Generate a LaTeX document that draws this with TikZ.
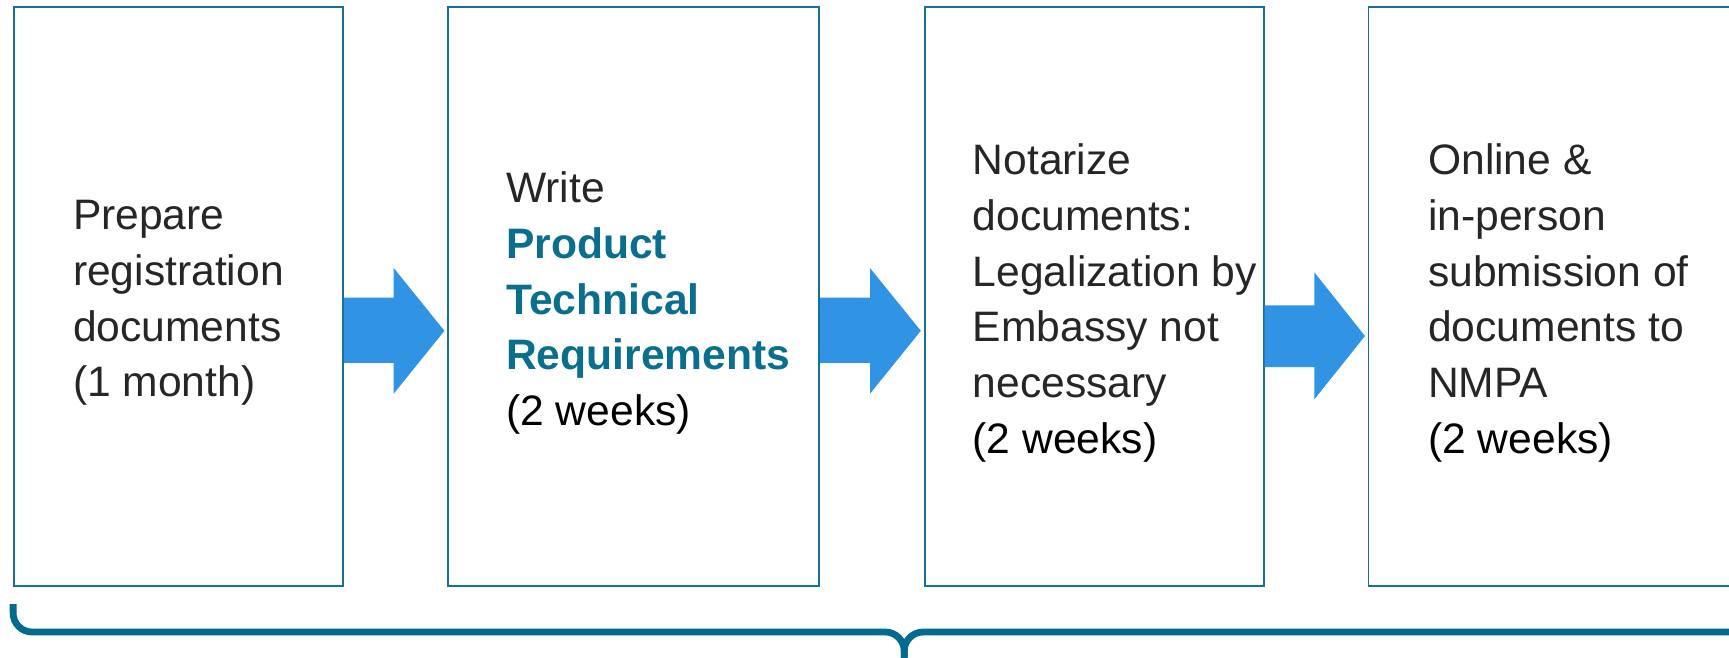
\documentclass[tikz,border=0pt]{standalone}
\usepackage{fontspec}
\setmainfont{Liberation Sans}
\definecolor{boxline}{HTML}{1A6F96}
\definecolor{teal}{HTML}{0A6E8F}
\definecolor{txtgray}{HTML}{262626}
\definecolor{arrowblue}{HTML}{3193E4}
\definecolor{bracecol}{HTML}{006A8F}
\tikzset{
  stagebox/.style={draw=boxline, line width=1.8pt, fill=white, minimum height=579pt, inner sep=0pt},
  stagetxt/.style={anchor=west, align=left, inner sep=0pt, text=txtgray, font=\fontsize{42.6}{55.7}\selectfont},
  blockarrow/.style={fill=arrowblue},
  brace/.style={draw=bracecol, line width=6.8pt, rounded corners=19pt}
}
\newcommand{\hlt}[1]{\textbf{\textcolor{teal}{#1}}}
\begin{document}
\begin{tikzpicture}[x=1pt,y=-1pt]
\useasboundingbox (0,0) rectangle (1729,657);
\fill[white] (0,0) rectangle (1729,657);
% boxes
\node[stagebox, minimum width=329pt] (b1) at (178.5,296.5) {};
\node[stagebox, minimum width=371.6pt] (b2) at (633.5,296.5) {};
\node[stagebox, minimum width=338.5pt] (b3) at (1094.45,296.5) {};
\node[stagebox, minimum width=380pt] (b4) at (1558.5,296.5) {};
% texts
\node[stagetxt] (t1) at (72.8,303) {Prepare\\registration\\documents\\(1 month)};
\node[stagetxt] (t2) at (506,303) {Write\\\hlt{Product}\\\hlt{Technical}\\\hlt{Requirements}\\\textcolor{black}{(2 weeks)}};
\node[stagetxt] (t3) at (972.6,303) {Notarize\\documents:\\Legalization by\\Embassy not\\necessary\\\textcolor{black}{(2 weeks)}};
\node[stagetxt] (t4) at (1428,303) {Online \&\\in-person\\submission of\\documents to\\NMPA\\\textcolor{black}{(2 weeks)}};
% block arrows between boxes
\fill[blockarrow] (b1.east |- 0,297.7) -- (393.7,297.7) -- (393.7,268) -- (444.4,330.8) -- (393.7,393.7) -- (393.7,362.8) -- (b1.east |- 0,362.8) -- cycle;
\fill[blockarrow] (b2.east |- 0,297.7) -- (870,297.7) -- (870,268) -- (920.8,330.8) -- (870,393.7) -- (870,362.8) -- (b2.east |- 0,362.8) -- cycle;
\fill[blockarrow] (b3.east |- 0,305.4) -- (1314.4,305.4) -- (1314.4,272.4) -- (1365,336) -- (1314.4,399.2) -- (1314.4,367.2) -- (b3.east |- 0,367.2) -- cycle;
% brace
\coordinate (bl) at (b1.south west |- 0,604);
\coordinate (bm) at (904.2,632);
\coordinate (bt) at (904.2,690);
\coordinate (br) at (1760,632);
\draw[brace] (bl) -- (bl |- bm) -- (bm) -- (bt);
\draw[brace] (br) -- (bm) -- (bt);
\end{tikzpicture}
\end{document}
